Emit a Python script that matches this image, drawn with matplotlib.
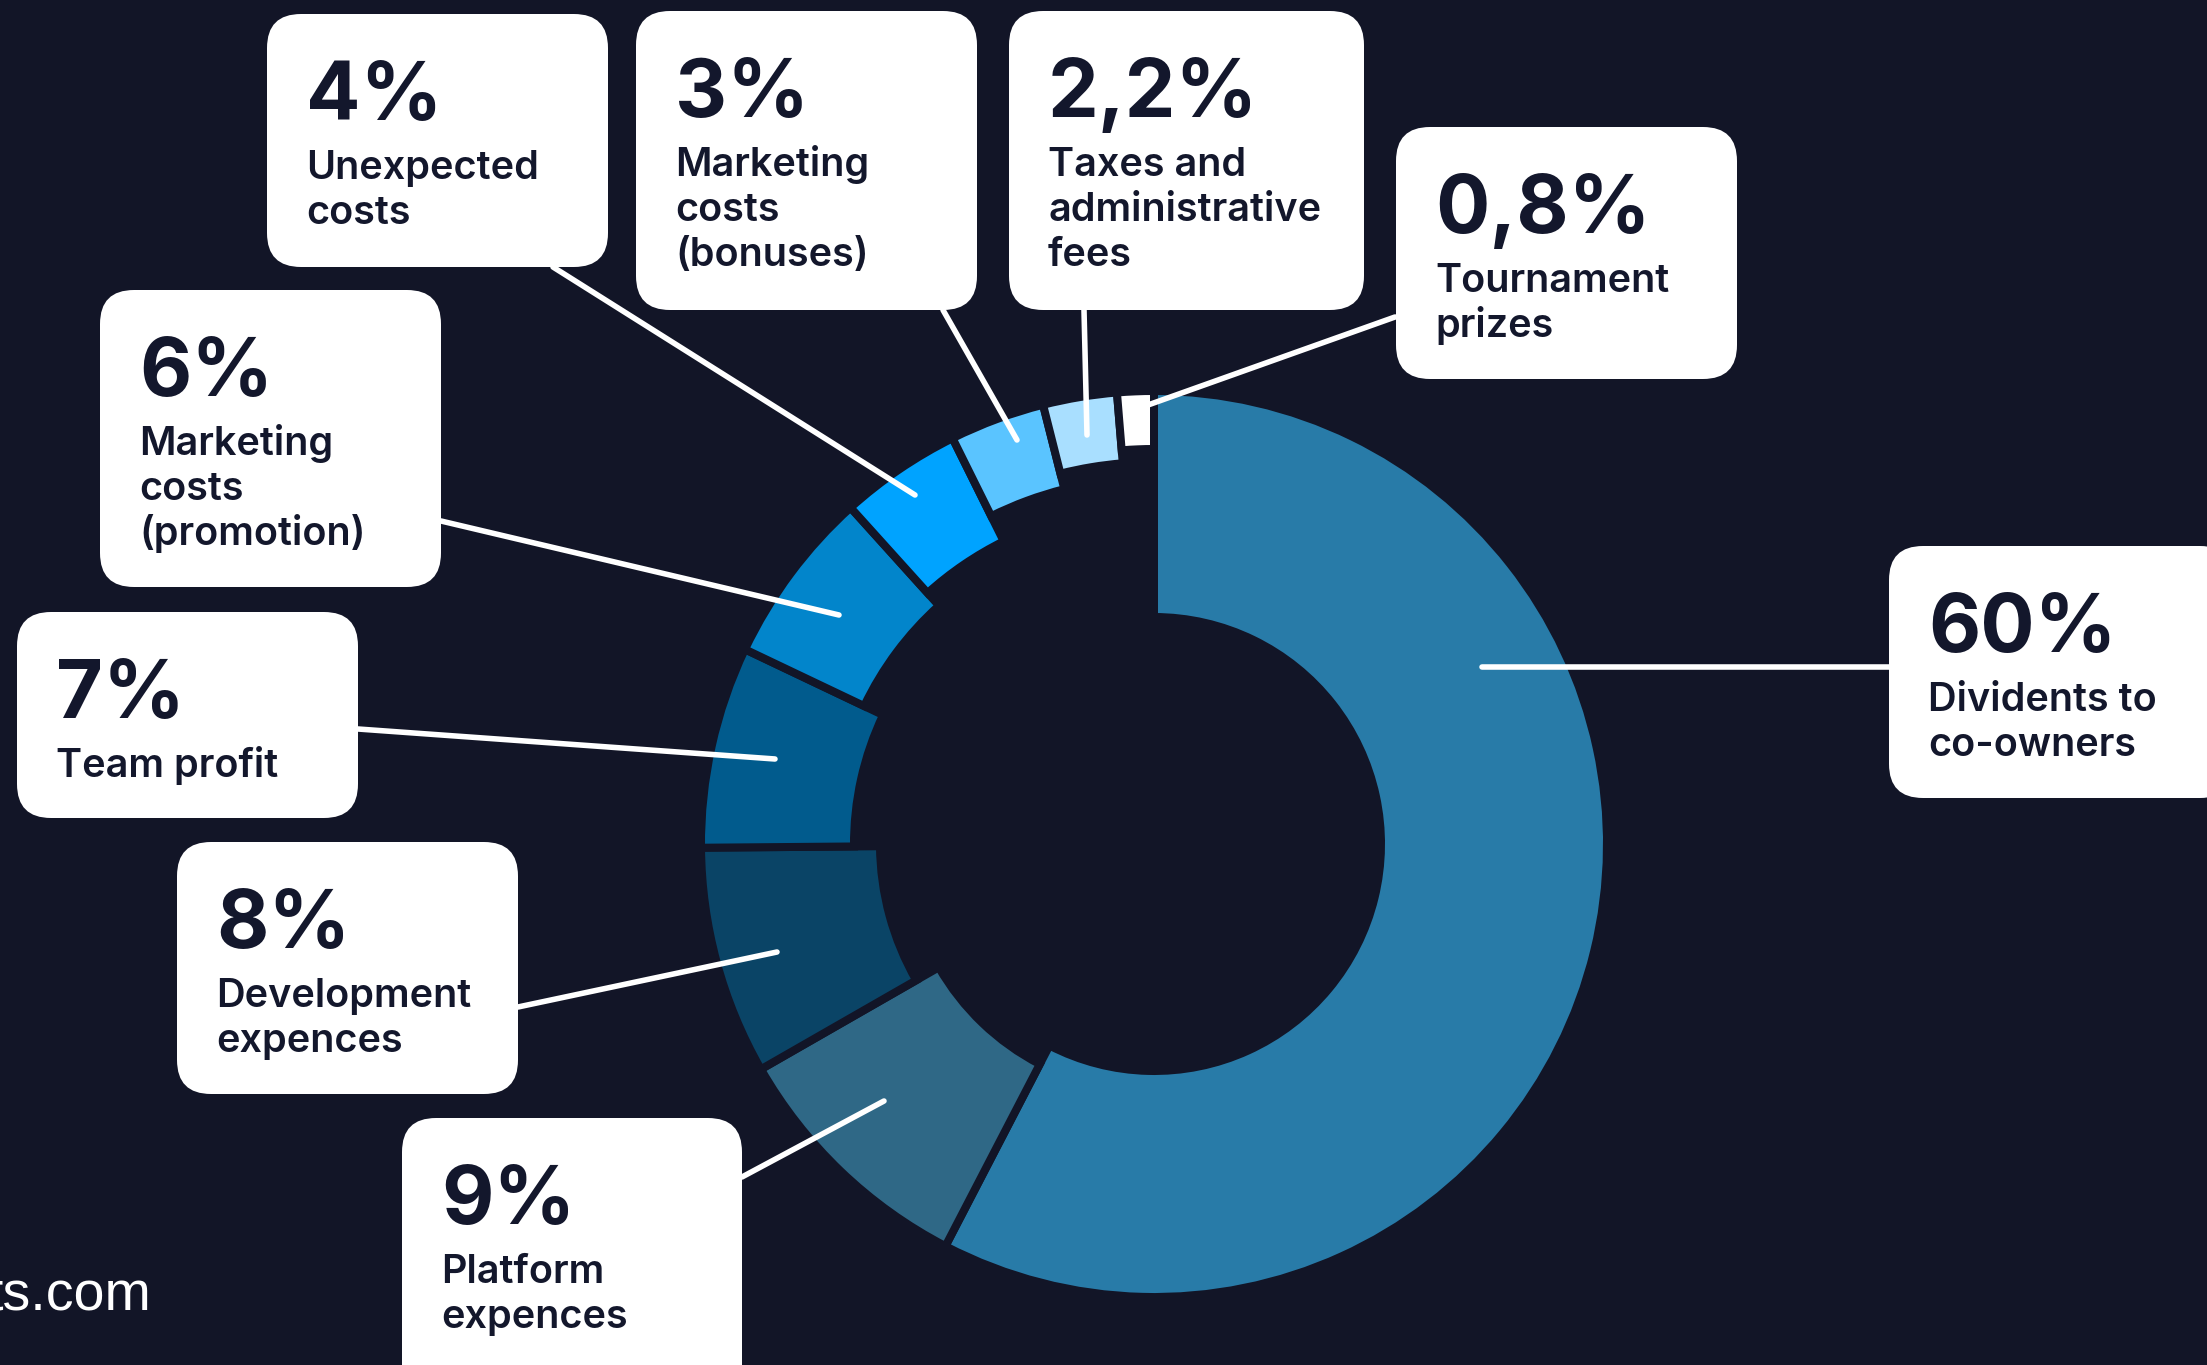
import matplotlib
matplotlib.use("Agg")
import matplotlib.pyplot as plt
from matplotlib.patches import FancyBboxPatch
import numpy as np

W, H = 2207, 1365
DPI = 100

# ---------------- data ----------------
shares = [60, 9, 8, 7, 6, 4, 3, 2.2, 0.8]
pct_labels = ["60%", "9%", "8%", "7%", "6%", "4%", "3%", "2,2%", "0,8%"]
categories = [
    "Dividents to\nco-owners",
    "Platform\nexpences",
    "Development\nexpences",
    "Team profit",
    "Marketing\ncosts\n(promotion)",
    "Unexpected\ncosts",
    "Marketing\ncosts\n(bonuses)",
    "Taxes and\nadministrative\nfees",
    "Tournament\nprizes",
]

# ---------------- style ----------------
colors = ["#287BA8", "#2F6886", "#0A4466", "#015B8D", "#0285CB",
          "#00A3FF", "#5AC4FF", "#A9DFFF", "#FFFFFF"]
ring_width = [218, 197, 171, 145, 124, 107, 79, 63, 50]   # px thickness per slice
PAD = 0.57      # constant per-slice pad (pad-angle like), value units
GAP = 8         # px gap between slices
BG = "#121527"
INK = "#13172C"
CX, CY, R = 1154, 844, 449   # pixel centre / outer radius (top-left origin)

# label boxes: x, y (top-left, px), w, h
boxes = [
    (1889, 546, 345, 252),
    (402, 1118, 340, 300),
    (177, 842, 341, 252),
    (17, 612, 341, 206),
    (100, 290, 341, 297),
    (267, 14, 341, 253),
    (636, 11, 341, 299),
    (1009, 11, 355, 299),
    (1396, 127, 341, 252),
]
leaders = [
    ((1889, 667), (1482, 667)),
    ((742, 1177), (884, 1101)),
    ((518, 1007), (777, 952)),
    ((358, 729), (775, 759)),
    ((441, 521), (839, 615)),
    ((553, 267), (915, 495)),
    ((943, 310), (1017, 440)),
    ((1084, 310), (1087, 435)),
    ((1395, 317), (1148, 405)),
]

FONT = ["Inter", "DejaVu Sans"]


def fy(y):
    return H - y


fig = plt.figure(figsize=(W / DPI, H / DPI), dpi=DPI, facecolor=BG)
ax = fig.add_axes([0, 0, 1, 1])
ax.set_facecolor(BG)

wedges, _ = ax.pie(
    np.array(shares) + PAD,
    colors=colors,
    startangle=90,
    counterclock=False,
    radius=R + GAP / 2,
    center=(CX, fy(CY)),
    wedgeprops=dict(edgecolor=BG, linewidth=GAP * 72 / DPI, width=100,
                    joinstyle="miter"),
)
for w, rw in zip(wedges, ring_width):
    w.set_width(rw + GAP)
    w.set_zorder(1)

ax.set_xlim(0, W)
ax.set_ylim(0, H)
ax.set_aspect("auto")
ax.axis("off")

# leader lines
for (p0, p1) in leaders:
    ax.plot([p0[0], p1[0]], [fy(p0[1]), fy(p1[1])], color="white", lw=4.0,
            solid_capstyle="round", zorder=3)

# boxes and text
for (bx, by, bw, bh), pct, cat in zip(boxes, pct_labels, categories):
    patch = FancyBboxPatch((bx, fy(by + bh)), bw, bh,
                           boxstyle="round,pad=0,rounding_size=34",
                           facecolor="white", edgecolor="none", zorder=4)
    ax.add_patch(patch)
    ax.text(bx + 39, fy(by + 106), pct, fontsize=58, color=INK, family=FONT,
            fontweight="bold", ha="left", va="baseline", zorder=5)
    for i, line in enumerate(cat.split("\n")):
        ax.text(bx + 39, fy(by + 165 + 45 * i), line, fontsize=28.5, color=INK,
                family=FONT, fontweight="semibold", ha="left", va="baseline",
                zorder=5)

ax.text(151, fy(1310), "ts.com", fontsize=40, color="white",
        family=["Liberation Sans", "DejaVu Sans"], ha="right", va="baseline",
        zorder=5)

fig.savefig("out.png", dpi=DPI, facecolor=BG)
